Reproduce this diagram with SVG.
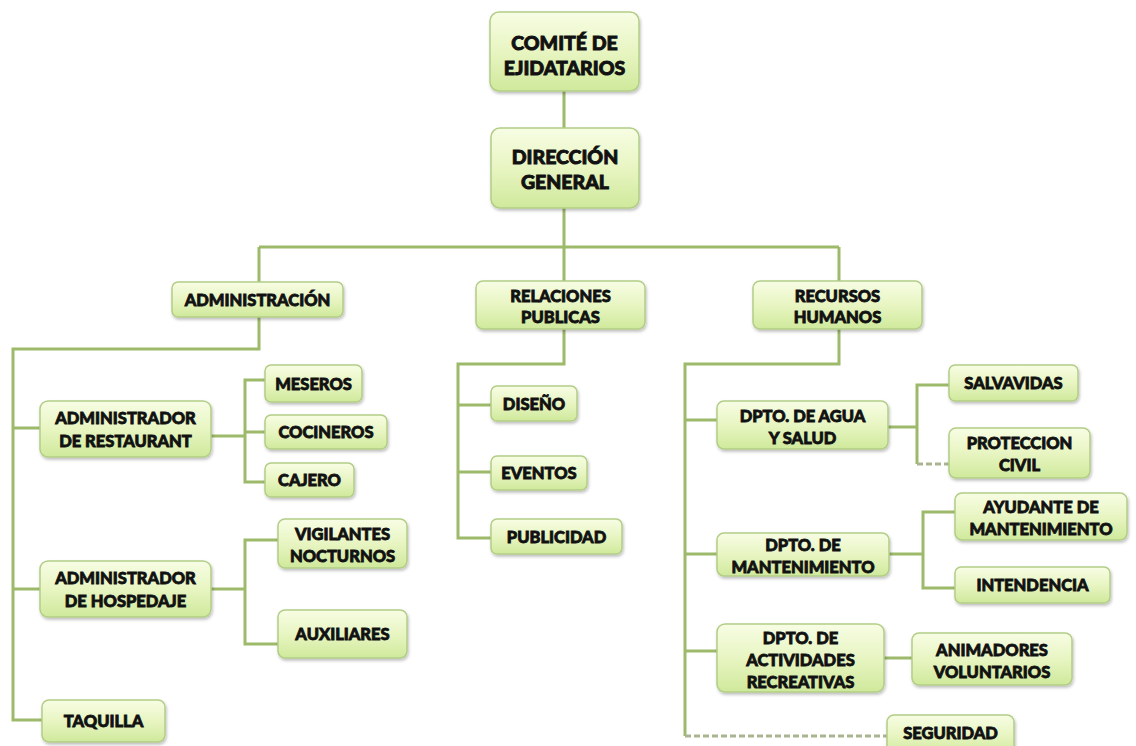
<svg xmlns="http://www.w3.org/2000/svg" width="1136" height="746" viewBox="0 0 1136 746">
<defs>
<linearGradient id="g" x1="0" y1="0" x2="0" y2="1">
<stop offset="0" stop-color="#f7fde4"/>
<stop offset="0.5" stop-color="#e8f5c2"/>
<stop offset="1" stop-color="#cfe99b"/>
</linearGradient>
<filter id="sh" x="-10%" y="-10%" width="125%" height="140%">
<feDropShadow dx="1" dy="2" stdDeviation="1.5" flood-color="#000" flood-opacity="0.25"/>
</filter>
<style>
.n rect{fill:url(#g);stroke:#b3cd86;stroke-width:1.5;filter:url(#sh)}
.n text{font-family:Lato,"Open Sans","Liberation Sans",sans-serif;font-weight:900;font-size:16.5px;fill:#111;stroke:#111;stroke-width:0.8;text-anchor:middle}
.n text.big{font-size:19.5px;stroke-width:0.9}
.c path{fill:none;stroke:#9db96a;stroke-width:3}
.c path.d{stroke:#a9b58f;stroke-dasharray:6 3}
</style>
</defs>
<rect width="1136" height="746" fill="#fff"/>
<g class="c">
<path d="M564 91V128"/>
<path d="M564 208V281"/>
<path d="M259 247H839"/>
<path d="M259 247V282"/>
<path d="M839 247V281"/>
<path d="M259 317V349H13V720H42"/>
<path d="M13 428H40"/>
<path d="M13 589H40"/>
<path d="M211 436H245"/>
<path d="M265 380H245V482H265"/>
<path d="M245 432H265"/>
<path d="M211 589H245"/>
<path d="M278 540H245V644H278"/>
<path d="M564 329V364H458V538H491"/>
<path d="M458 405H491"/>
<path d="M458 472H491"/>
<path d="M839 329V364H685V736"/>
<path d="M685 420H717"/>
<path d="M685 554H717"/>
<path d="M685 651H717"/>
<path class="d" d="M685 736H887"/>
<path d="M888 427H917"/>
<path d="M949 385H917V464"/>
<path class="d" d="M917 464H949"/>
<path d="M889 554H923"/>
<path d="M955 512H923V588H955"/>
<path d="M884 658H912"/>
</g>
<g id="comite" class="n"><rect x="490" y="12" width="149" height="79" rx="9"/><text class="big" x="564.5" y="50">COMITÉ DE</text><text class="big" x="564.5" y="75">EJIDATARIOS</text></g>
<g id="direccion" class="n"><rect x="491" y="128" width="148" height="80" rx="9"/><text class="big" x="565" y="164">DIRECCIÓN</text><text class="big" x="565" y="189">GENERAL</text></g>
<g id="administracion" class="n"><rect x="172" y="282" width="171" height="35" rx="6"/><text x="257.5" y="306">ADMINISTRACIÓN</text></g>
<g id="relaciones" class="n"><rect x="476" y="281" width="169" height="48" rx="7"/><text x="560.5" y="302">RELACIONES</text><text x="560.5" y="323">PUBLICAS</text></g>
<g id="recursos" class="n"><rect x="753" y="281" width="169" height="48" rx="7"/><text x="837.5" y="302">RECURSOS</text><text x="837.5" y="323">HUMANOS</text></g>
<g id="restaurant" class="n"><rect x="40" y="401" width="171" height="56" rx="8"/><text x="125.5" y="424">ADMINISTRADOR</text><text x="125.5" y="447">DE RESTAURANT</text></g>
<g id="meseros" class="n"><rect x="265" y="365" width="97" height="37" rx="6"/><text x="313.5" y="390">MESEROS</text></g>
<g id="cocineros" class="n"><rect x="265" y="415" width="122" height="34" rx="6"/><text x="326" y="438">COCINEROS</text></g>
<g id="cajero" class="n"><rect x="265" y="463" width="89" height="34" rx="6"/><text x="309.5" y="486">CAJERO</text></g>
<g id="hospedaje" class="n"><rect x="40" y="561" width="171" height="56" rx="8"/><text x="125.5" y="584">ADMINISTRADOR</text><text x="125.5" y="607">DE HOSPEDAJE</text></g>
<g id="vigilantes" class="n"><rect x="278" y="519" width="129" height="49" rx="7"/><text x="342.5" y="540">VIGILANTES</text><text x="342.5" y="562">NOCTURNOS</text></g>
<g id="auxiliares" class="n"><rect x="278" y="610" width="129" height="48" rx="7"/><text x="342.5" y="640">AUXILIARES</text></g>
<g id="taquilla" class="n"><rect x="42" y="700" width="123" height="42" rx="7"/><text x="103.5" y="727">TAQUILLA</text></g>
<g id="diseno" class="n"><rect x="491" y="386" width="86" height="35" rx="6"/><text x="534" y="410">DISEÑO</text></g>
<g id="eventos" class="n"><rect x="491" y="456" width="96" height="34" rx="6"/><text x="539" y="479">EVENTOS</text></g>
<g id="publicidad" class="n"><rect x="491" y="519" width="131" height="35" rx="6"/><text x="556.5" y="543">PUBLICIDAD</text></g>
<g id="agua" class="n"><rect x="717" y="401" width="171" height="48" rx="7"/><text x="802.5" y="422">DPTO. DE AGUA</text><text x="802.5" y="444">Y SALUD</text></g>
<g id="salvavidas" class="n"><rect x="949" y="365" width="129" height="36" rx="6"/><text x="1013.5" y="389">SALVAVIDAS</text></g>
<g id="proteccion" class="n"><rect x="949" y="428" width="141" height="50" rx="7"/><text x="1019.5" y="449">PROTECCION</text><text x="1019.5" y="471">CIVIL</text></g>
<g id="mantenimiento" class="n"><rect x="717" y="533" width="172" height="43" rx="7"/><text x="803" y="551">DPTO. DE</text><text x="803" y="573">MANTENIMIENTO</text></g>
<g id="ayudante" class="n"><rect x="955" y="493" width="172" height="47" rx="7"/><text x="1041" y="513">AYUDANTE DE</text><text x="1041" y="535">MANTENIMIENTO</text></g>
<g id="intendencia" class="n"><rect x="955" y="567" width="155" height="36" rx="6"/><text x="1032.5" y="591">INTENDENCIA</text></g>
<g id="actividades" class="n"><rect x="717" y="624" width="167" height="68" rx="8"/><text x="800.5" y="644">DPTO. DE</text><text x="800.5" y="666">ACTIVIDADES</text><text x="800.5" y="688">RECREATIVAS</text></g>
<g id="animadores" class="n"><rect x="912" y="633" width="160" height="52" rx="7"/><text x="992" y="656">ANIMADORES</text><text x="992" y="678">VOLUNTARIOS</text></g>
<g id="seguridad" class="n"><rect x="887" y="715" width="127" height="40" rx="7"/><text x="950.5" y="739">SEGURIDAD</text></g>
</svg>
